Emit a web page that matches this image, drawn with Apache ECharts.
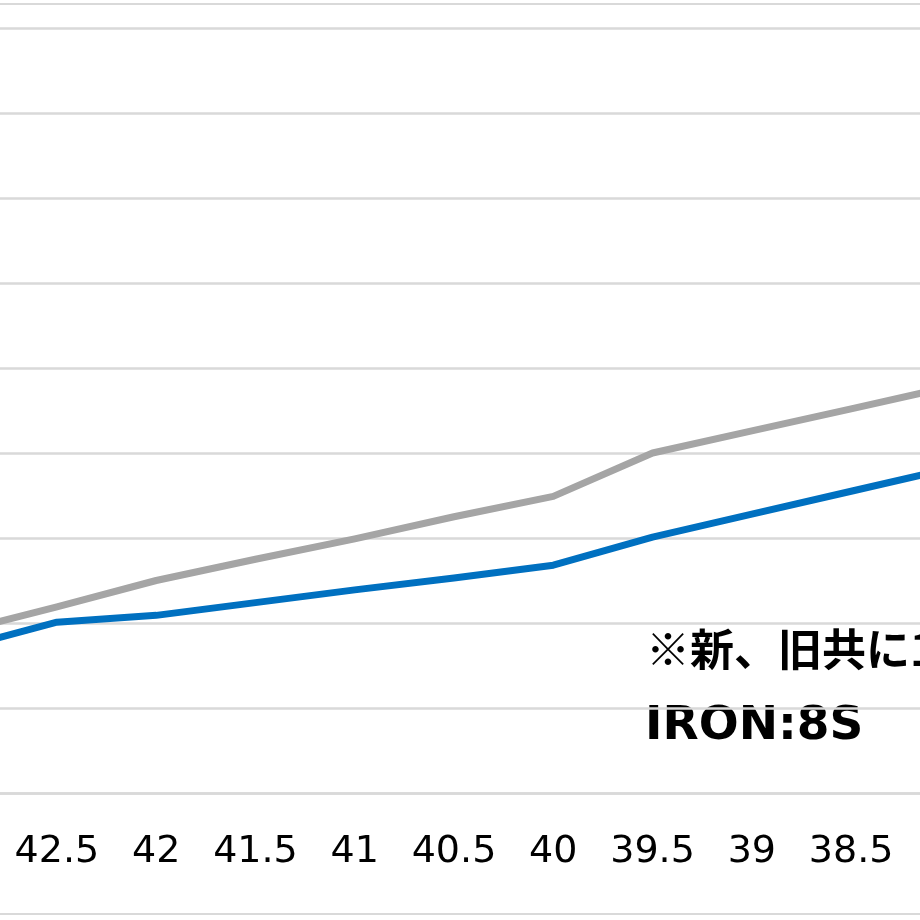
<!DOCTYPE html>
<html>
<head>
<meta charset="utf-8">
<script src="https://cdn.jsdelivr.net/npm/echarts@6/dist/echarts.min.js"></script>
<style>
html,body{margin:0;padding:0;background:#fff;}
#chart{width:920px;height:920px;}
</style>
</head>
<body>
<div id="chart"></div>
<script>
// Club length (inches), shown longest to shortest
const categories = ['43', '42.5', '42', '41.5', '41', '40.5', '40', '39.5', '39', '38.5', '38'];
// Gray series (旧)
const oldValues = [1.89, 2.19, 2.50, 2.75, 2.99, 3.25, 3.49, 4.00, 4.26, 4.52, 4.78];
// Blue series (新)
const newValues = [1.70, 2.01, 2.09, 2.24, 2.39, 2.53, 2.68, 3.01, 3.28, 3.55, 3.82];
// Y axis range
const yMin = 0, yMax = 9, yStep = 1;
// Annotation text
const noteLine1 = '※新、旧共に1';
const noteLine2 = 'IRON:8S';

const chart = echarts.init(document.getElementById('chart'), null, {renderer: 'canvas'});
chart.setOption({
  backgroundColor: '#ffffff',
  animation: false,
  grid: {left: -92, right: -80, top: 28, bottom: 127, containLabel: false, outerBoundsMode: 'none'},
  xAxis: {
    type: 'category',
    data: categories,
    boundaryGap: true,
    axisLine: {show: true, lineStyle: {color: '#d9d9d9', width: 2.5}},
    axisTick: {show: false},
    axisLabel: {color: '#000', fontFamily: 'DejaVu Sans', fontSize: 38, margin: 40, interval: 0, hideOverlap: false}
  },
  yAxis: {
    type: 'value',
    min: yMin, max: yMax, interval: yStep,
    axisLine: {show: false},
    axisTick: {show: false},
    axisLabel: {show: false},
    splitLine: {show: true, lineStyle: {color: '#d9d9d9', width: 2.5}}
  },
  series: [
    {
      name: '旧', type: 'line', data: oldValues, symbol: 'none',
      lineStyle: {color: '#a5a5a5', width: 7, cap: 'round', join: 'round'},
      z: 3
    },
    {
      name: '新', type: 'line', data: newValues, symbol: 'none',
      lineStyle: {color: '#0070c0', width: 7, cap: 'round', join: 'round'},
      z: 4
    }
  ],
  graphic: [
    {type: 'line', shape: {x1: 0, y1: 4, x2: 920, y2: 4}, style: {stroke: '#d9d9d9', lineWidth: 2}, z: 1},
    {type: 'line', shape: {x1: 0, y1: 914, x2: 920, y2: 914}, style: {stroke: '#d9d9d9', lineWidth: 2}, z: 1},
    {
      type: 'group', z: 10,
      children: [
        {type: 'rect', shape: {x: 611, y: 627, width: 400, height: 158}, style: {fill: '#ffffff'}},
        {type: 'text', x: 646, y: 649, style: {text: noteLine1, fill: '#000', font: 'bold 44px "Noto Sans CJK JP"', textVerticalAlign: 'middle', textAlign: 'left'}},
        {type: 'text', x: 645, y: 727, style: {text: noteLine2, fill: '#000', font: 'bold 47px "DejaVu Sans"', textVerticalAlign: 'middle', textAlign: 'left'}}
      ]
    }
  ]
});
</script>
</body>
</html>
